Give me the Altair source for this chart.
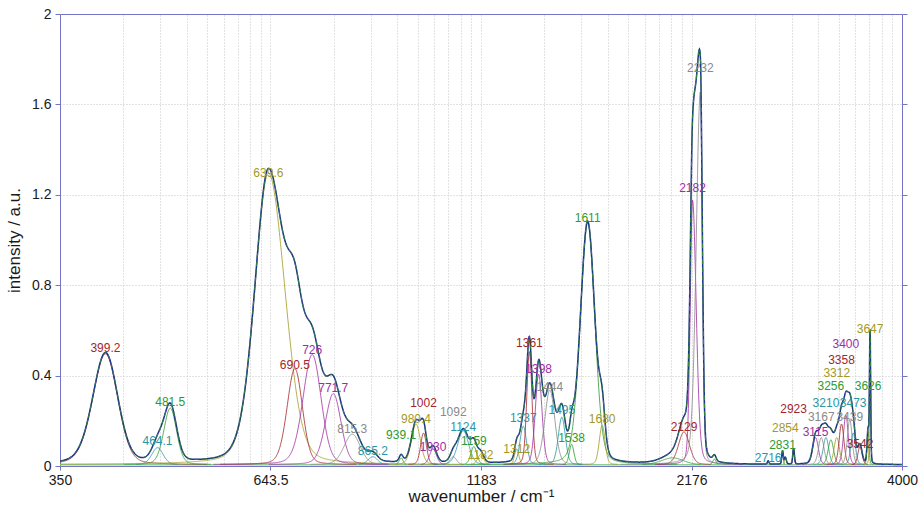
import numpy as np
import pandas as pd
import altair as alt

# ---------------- data ----------------
peak_label = ["399.2", "464.1", "481.5", "639.6", "690.5", "726", "771.7", "815.3", "865.2",
              "939.1", "980.4", "1002", "1030", "1092", "1124", "1159", "1182", "1312", "1337",
              "1361", "1398", "1444", "1495", "1538", "1611", "1680", "2129", "2182", "2232",
              "2716", "2831", "2854", "2923", "3115", "3167", "3210", "3256", "3312", "3358",
              "3400", "3439", "3473", "3542", "3626", "3647"]
peak_pos = [399.2, 464.1, 481.5, 639.6, 690.5, 726, 771.7, 815.3, 865.2,
            939.1, 980.4, 1002, 1030, 1092, 1124, 1159, 1182, 1312, 1337,
            1361, 1398, 1444, 1495, 1538, 1611, 1680, 2129, 2182, 2232,
            2716, 2831, 2854, 2923, 3115, 3167, 3210, 3256, 3312, 3358,
            3400, 3439, 3473, 3542, 3626, 3647]
peak_height = [0.49, 0.075, 0.25, 1.29, 0.425, 0.487, 0.314, 0.135, 0.035,
               0.03, 0.18, 0.14, 0.07, 0.035, 0.15, 0.08, 0.045, 0.07, 0.17,
               0.50, 0.40, 0.33, 0.21, 0.09, 1.07, 0.174, 0.145, 1.17, 1.65,
               0.015, 0.06, 0.03, 0.07, 0.12, 0.12, 0.12, 0.11, 0.12, 0.18,
               0.22, 0.20, 0.14, 0.08, 0.15, 0.60]
peak_fwhm_low = [34, 18, 21, 58, 36, 45, 41, 45, 28,
                 12, 30, 20, 24, 24, 42, 24, 24, 19, 30,
                 24, 32, 50, 36, 24, 80, 33, 80, 34, 62,
                 14, 14, 19, 16, 60, 60, 60, 60, 60, 55,
                 55, 55, 55, 50, 24, 14]
peak_fwhm_high = [34, 18, 21, 74, 36, 45, 41, 45, 28,
                  12, 30, 20, 24, 24, 42, 24, 24, 19, 30,
                  24, 32, 50, 36, 24, 80, 33, 80, 55, 30,
                  14, 14, 19, 16, 60, 60, 60, 60, 60, 55,
                  55, 55, 55, 50, 24, 14]
peak_group = ["red", "teal", "green", "olive", "red", "purple", "purple", "grey", "teal",
              "green", "olive", "red", "purple", "grey", "teal", "green", "olive", "olive", "teal",
              "red", "purple", "grey", "teal", "green", "green", "olive", "red", "purple", "grey",
              "teal", "green", "olive", "red", "purple", "grey", "teal", "green", "olive", "red",
              "purple", "grey", "teal", "red", "green", "olive"]
label_height = [0.522, 0.111, 0.283, 1.296, 0.447, 0.513, 0.345, 0.164, 0.066,
                0.137, 0.208, 0.279, 0.084, 0.239, 0.173, 0.111, 0.049, 0.075, 0.212,
                0.544, 0.429, 0.350, 0.248, 0.124, 1.097, 0.208, 0.173, 1.230, 1.761,
                0.035, 0.093, 0.168, 0.252, 0.150, 0.217, 0.279, 0.354, 0.411, 0.469,
                0.540, 0.217, 0.279, 0.097, 0.354, 0.606]

# unlabelled minor components
extra_pos = [2060, 2325]
extra_height = [0.03, 0.025]
extra_fwhm = [150, 25]

baseline = [0.006]
x_ticks = [350, 643.5, 1183, 2176, 4000]
y_ticks = [0, 0.4, 0.8, 1.2, 1.6, 2]

# ---------------- build tables ----------------
ETA = 0.2  # Lorentzian fraction of the pseudo-Voigt peaks


def profile(x, c, h, flo, fhi):
    f = np.where(x < c, flo, fhi)
    u = (x - c) / f
    g = np.exp(-4 * np.log(2) * u * u)
    lor = 1.0 / (1.0 + 4 * u * u)
    return h * ((1 - ETA) * g + ETA * lor)


xs = np.geomspace(x_ticks[0], x_ticks[-1], 2200)
b0 = baseline[0]
total = np.full_like(xs, b0)
comp_rows = []


def add_component(name, grp, c, h, flo, fhi):
    global total
    p = profile(xs, c, h, flo, fhi)
    total = total + p
    idx = np.where(p > 0.0015)[0]
    if len(idx) == 0:
        return
    lo, hi = max(idx[0] - 1, 0), min(idx[-1] + 1, len(xs) - 1)
    for i in range(lo, hi + 1):
        comp_rows.append({"x": xs[i], "y": b0 + p[i], "peak": name, "group": grp})


for i, lab in enumerate(peak_label):
    add_component(lab, peak_group[i], peak_pos[i], peak_height[i], peak_fwhm_low[i], peak_fwhm_high[i])
for j, c in enumerate(extra_pos):
    add_component("extra%d" % j, "green", c, extra_height[j], extra_fwhm[j], extra_fwhm[j])

comp_df = pd.DataFrame(comp_rows)
total_df = pd.DataFrame({"x": xs, "y": total})
label_df = pd.DataFrame({"x": peak_pos, "y": label_height, "text": peak_label, "group": peak_group})
base_df = pd.DataFrame({"y": baseline})

# grid positions: log-style minor lines inside every major interval
x_grid = []
for i in range(len(x_ticks) - 1):
    for k in range(1, 10):
        x_grid.append(x_ticks[i] * (x_ticks[i + 1] / x_ticks[i]) ** np.log10(k))
x_grid.append(x_ticks[-1])

# ---------------- chart ----------------
font = "Liberation Sans"
frame = "#7474c8"
grid_col = "#c4c4c4"
text_col = "#1a1a1a"
group_dom = ["red", "purple", "grey", "teal", "green", "olive"]
group_col = ["#a3262c", "#a02ca3", "#8a8a8a", "#2a96a3", "#2f9a2f", "#a39a1f"]

xsc = alt.Scale(type="log", domain=[x_ticks[0], x_ticks[-1]], nice=False)
ysc = alt.Scale(domain=[y_ticks[0], y_ticks[-1]], nice=False)
csc = alt.Scale(domain=group_dom, range=group_col)

base_layer = alt.Chart(base_df).mark_rule(color="#8fcf8f", strokeWidth=1.5).encode(
    y=alt.Y("y:Q", scale=ysc, axis=None)
)

comp_layer = alt.Chart(comp_df).mark_line(strokeWidth=1, opacity=0.8).encode(
    x=alt.X("x:Q", scale=xsc,
            axis=alt.Axis(orient="bottom", values=x_ticks, format="~g", grid=False,
                          tickSize=4, tickColor=frame, domainColor=frame,
                          labelFont=font, labelFontSize=14, labelColor=text_col,
                          labelPadding=3, labelFlush=False,
                          title="wavenumber / cm⁻¹", titleFont=font, titleFontSize=17,
                          titleFontWeight="normal", titleColor=text_col, titlePadding=1)),
    y=alt.Y("y:Q", scale=ysc,
            axis=alt.Axis(orient="left", values=y_ticks, format="~g", grid=True,
                          gridColor=grid_col, gridDash=[1, 2], tickSize=5, tickColor=frame,
                          domainColor=frame, labelFont=font, labelFontSize=14,
                          labelColor=text_col, labelPadding=4,
                          title="intensity / a.u.", titleFont=font, titleFontSize=17,
                          titleFontWeight="normal", titleColor=text_col, titlePadding=8)),
    color=alt.Color("group:N", scale=csc, legend=None),
    detail="peak:N",
)

total_layer = alt.Chart(total_df).mark_line(color="#1f2f8f", strokeWidth=1.5).encode(
    x=alt.X("x:Q", scale=xsc,
            axis=alt.Axis(orient="top", values=x_grid, grid=True, gridColor=grid_col,
                          gridDash=[1, 2], labels=False, ticks=False, domainColor=frame,
                          title=None)),
    y=alt.Y("y:Q", scale=ysc,
            axis=alt.Axis(orient="right", values=y_ticks, grid=False, labels=False,
                          tickSize=5, tickColor=frame, domainColor=frame, title=None)),
)

fit_layer = alt.Chart(total_df).mark_line(color="#2f8a3a", strokeWidth=1, strokeDash=[5, 3]).encode(
    x=alt.X("x:Q", scale=xsc, axis=None),
    y=alt.Y("y:Q", scale=ysc, axis=None),
)

label_layer = alt.Chart(label_df).mark_text(font=font, fontSize=12, align="center",
                                            baseline="middle").encode(
    x=alt.X("x:Q", scale=xsc, axis=None),
    y=alt.Y("y:Q", scale=ysc, axis=None),
    text="text:N",
    color=alt.Color("group:N", scale=csc, legend=None),
)

chart = (
    alt.layer(base_layer, comp_layer, total_layer, fit_layer, label_layer)
    .resolve_axis(x="independent", y="independent")
    .properties(width=842, height=452,
                autosize=alt.AutoSizeParams(type="none"),
                padding={"left": 60, "top": 14, "right": 18, "bottom": 39},
                background="white")
    .configure_view(stroke=None)
)

chart.save("out.html", embed_options={"renderer": "svg", "actions": False})
